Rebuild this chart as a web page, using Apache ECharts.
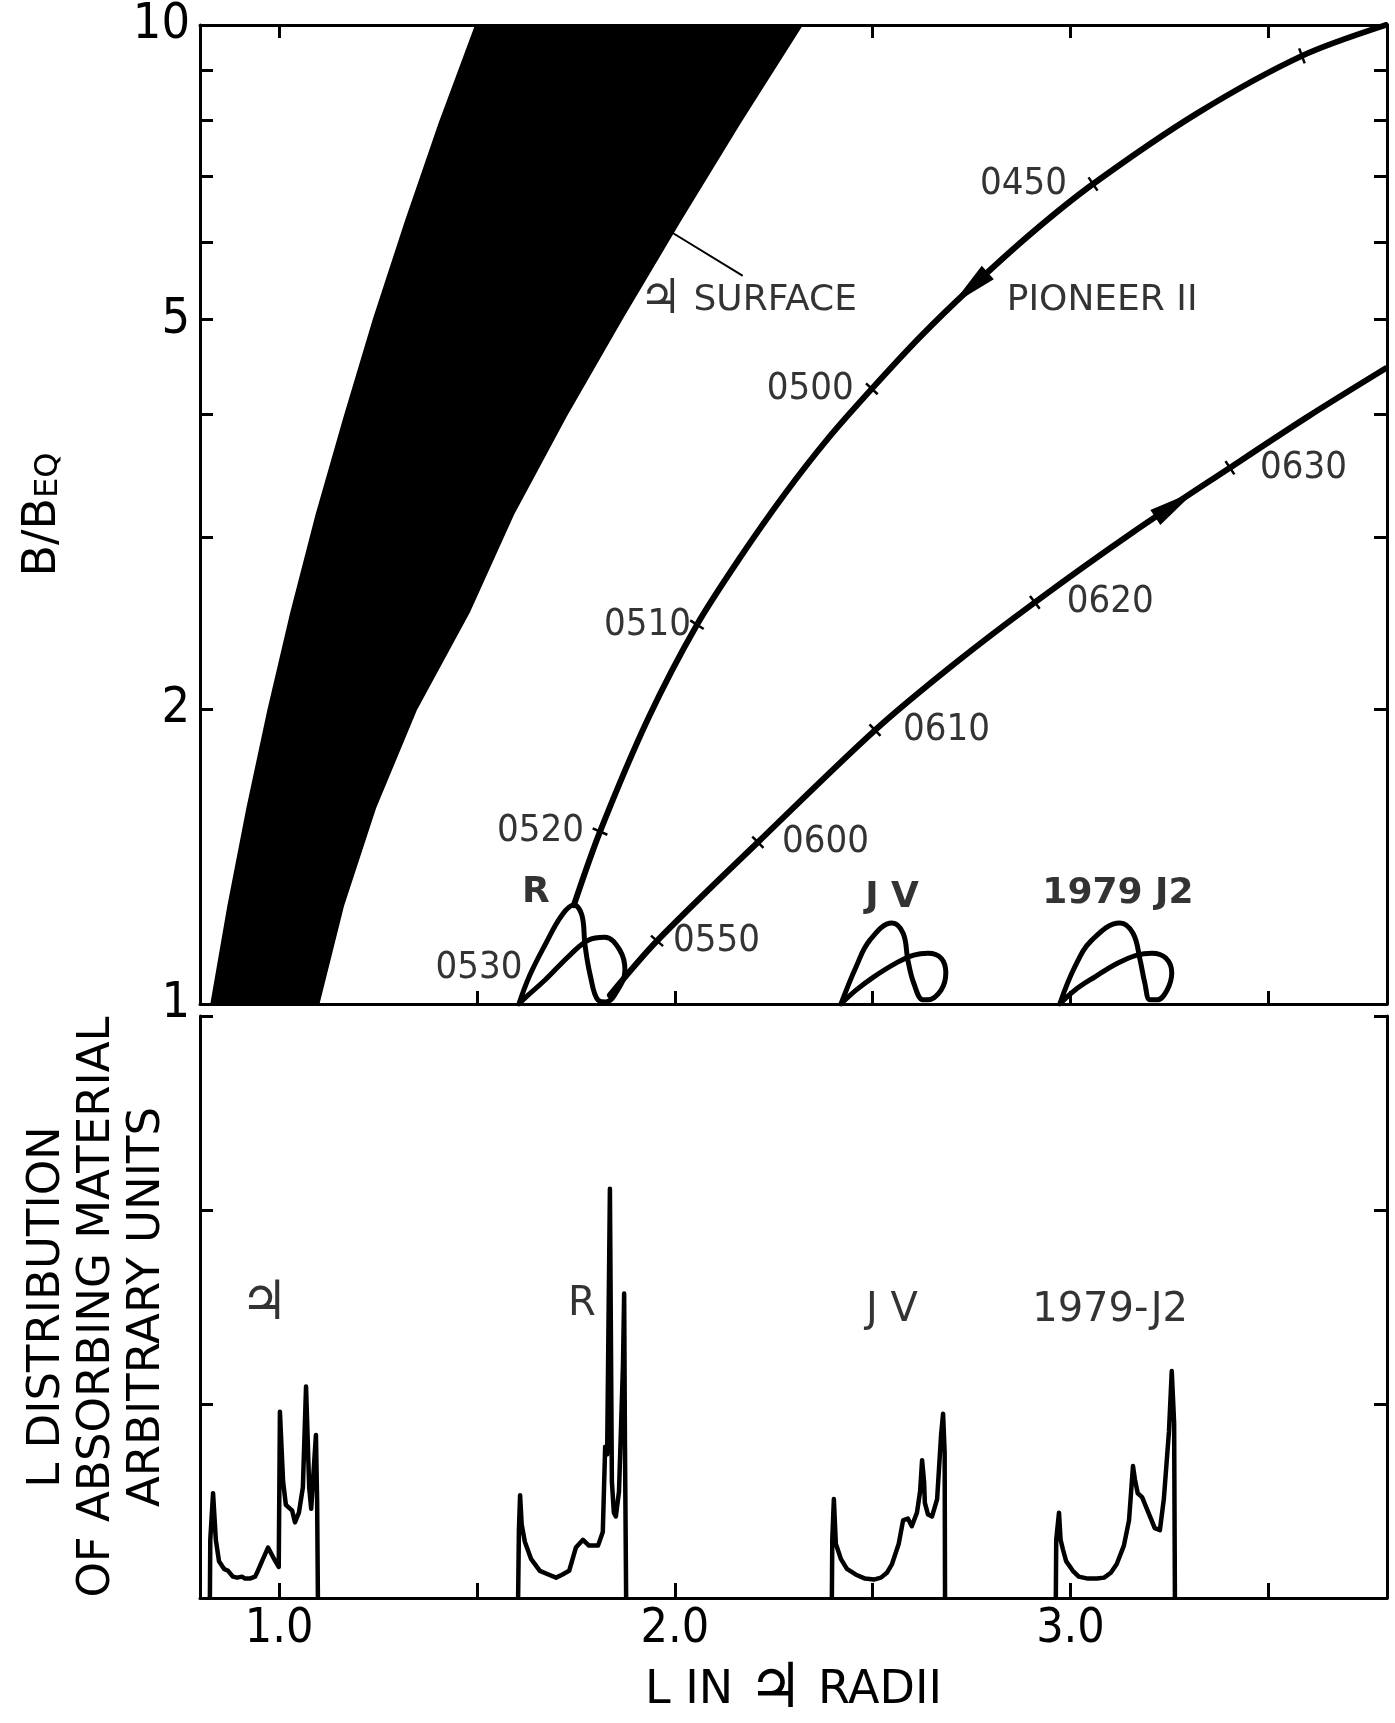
<!DOCTYPE html>
<html><head><meta charset="utf-8">
<script src="https://cdn.jsdelivr.net/npm/echarts@6/dist/echarts.min.js"></script>
<style>html,body{margin:0;padding:0;background:#fff}#c{width:1395px;height:1723px}</style>
</head><body><div id="c"></div>
<script>
// ---------- DATA (L in Jupiter radii, B/Beq) ----------
const xTicks = [1.0, 1.5, 2.0, 2.5, 3.0, 3.5];
const xLabels = [1.0, 2.0, 3.0];
const yTicksTop = [1, 2, 3, 4, 5, 6, 7, 8, 9, 10];
const yLabelsTop = [1, 2, 5, 10];
const yTicksBottom = [1, 2, 3];

// Jupiter surface band: left and right boundaries
const surfaceLeft = [[1.495,10],[1.403,7.943],[1.318,6.310],[1.237,5.012],[1.163,3.981],[1.092,3.162],[1.028,2.512],[0.970,1.995],[0.917,1.585],[0.869,1.259],[0.826,1.0]];
const surfaceRight = [[2.324,10],[2.167,7.943],[2.016,6.310],[1.869,5.012],[1.727,3.981],[1.594,3.162],[1.482,2.512],[1.348,1.995],[1.245,1.585],[1.164,1.259],[1.102,1.0]];

// Pioneer 11 trajectory
const inbound = [[3.797,10],[3.585,9.30],[3.320,8.124],[3.057,6.88],[2.901,6.126],[2.746,5.38],[2.622,4.810],[2.498,4.25],[2.387,3.780],[2.277,3.315],[2.165,2.858],[2.056,2.44],[1.933,1.958],[1.811,1.50],[1.745,1.262]];
const outbound = [[1.836,1.021],[1.955,1.160],[2.210,1.463],[2.506,1.904],[2.708,2.228],[2.910,2.572],[3.157,3.031],[3.403,3.53],[3.600,3.981],[3.797,4.46]];

// satellite loops
const rLoop = [[1.606,1.0],[1.634,1.071],[1.672,1.149],[1.715,1.233],[1.745,1.262],[1.765,1.233],[1.773,1.149],[1.786,1.071],[1.806,1.009],[1.826,1.005],[1.856,1.034],[1.874,1.083],[1.861,1.135],[1.823,1.170],[1.781,1.162],[1.735,1.122],[1.672,1.058],[1.621,1.014],[1.606,1.0]];
const jvLoop = [[2.420,1.0],[2.458,1.091],[2.493,1.162],[2.549,1.210],[2.577,1.181],[2.589,1.109],[2.604,1.05],[2.627,1.01],[2.640,1.01],[2.673,1.033],[2.685,1.076],[2.673,1.114],[2.640,1.127],[2.604,1.122],[2.559,1.101],[2.503,1.066],[2.458,1.033],[2.420,1.0]];
const j2Loop = [[2.973,1.0],[3.011,1.091],[3.054,1.162],[3.125,1.210],[3.158,1.181],[3.176,1.109],[3.188,1.05],[3.201,1.01],[3.219,1.01],[3.244,1.033],[3.256,1.076],[3.241,1.114],[3.206,1.127],[3.168,1.122],[3.120,1.101],[3.062,1.066],[3.011,1.033],[2.973,1.0]];

// time marks [label, L, B]
const inboundTimes = [['',3.585,9.30],['0450',3.057,6.88],['0500',2.498,4.25],['0510',2.056,2.44],['0520',1.811,1.50]];
const outboundTimes = [['0550',1.955,1.160],['0600',2.210,1.463],['0610',2.506,1.904],['0620',2.910,2.572],['0630',3.403,3.53]];
const loopTimes = [['0530',1.625,1.088]];
const inboundArrow = [[2.746,5.38]];
const outboundArrow = [[3.265,3.24]];

// annotations [text, L, value]
const surfaceLeader = [[1.998,6.12],[2.170,5.55]];
const topNotes = [['{j|♃} SURFACE',2.185,5.23],['PIONEER II',3.080,5.23]];
const topMoons = [['R',1.649,1.30],['J Ⅴ',2.549,1.283],['1979 J2',3.120,1.295]];
const bottomMoons = [['{j|♃}',0.962,1.51],['R',1.765,1.51],['J Ⅴ',2.549,1.48],['1979-J2',3.100,1.48]];

// L distribution of absorbing material (arbitrary units)
const specJupiter = [[0.825,0],[0.826,0.30],[0.833,0.54],[0.840,0.30],[0.848,0.19],[0.861,0.15],[0.871,0.14],[0.883,0.11],[0.894,0.105],[0.906,0.11],[0.914,0.10],[0.926,0.10],[0.939,0.11],[0.944,0.13],[0.959,0.20],[0.972,0.26],[0.985,0.21],[0.999,0.16],[1.002,0.96],[1.010,0.60],[1.017,0.48],[1.033,0.45],[1.040,0.39],[1.050,0.44],[1.060,0.57],[1.068,1.09],[1.076,0.57],[1.081,0.46],[1.086,0.46],[1.093,0.84],[1.096,0.50],[1.098,0]];
const specR = [[1.604,0],[1.606,0.35],[1.609,0.53],[1.613,0.38],[1.621,0.29],[1.637,0.20],[1.659,0.14],[1.682,0.12],[1.700,0.105],[1.715,0.12],[1.733,0.14],[1.750,0.26],[1.768,0.30],[1.783,0.27],[1.806,0.27],[1.818,0.34],[1.824,0.78],[1.829,0.74],[1.836,2.11],[1.841,0.60],[1.846,0.44],[1.851,0.42],[1.859,0.55],[1.869,1.20],[1.872,1.57],[1.874,0.80],[1.877,0]];
const specJV = [[2.397,0],[2.398,0.30],[2.402,0.51],[2.407,0.28],[2.420,0.20],[2.435,0.15],[2.458,0.12],[2.481,0.10],[2.503,0.095],[2.521,0.105],[2.536,0.13],[2.549,0.175],[2.566,0.28],[2.577,0.40],[2.589,0.41],[2.599,0.37],[2.612,0.44],[2.620,0.55],[2.625,0.71],[2.630,0.60],[2.632,0.49],[2.640,0.43],[2.650,0.42],[2.663,0.51],[2.673,0.84],[2.678,0.95],[2.682,0.75],[2.683,0]];
const specJ2 = [[2.963,0],[2.964,0.30],[2.971,0.44],[2.975,0.30],[2.981,0.25],[2.989,0.19],[3.006,0.14],[3.021,0.11],[3.044,0.10],[3.067,0.10],[3.085,0.105],[3.102,0.13],[3.117,0.175],[3.135,0.27],[3.148,0.40],[3.158,0.68],[3.163,0.61],[3.170,0.54],[3.181,0.52],[3.191,0.47],[3.203,0.41],[3.213,0.36],[3.226,0.35],[3.236,0.51],[3.249,0.86],[3.256,1.17],[3.262,0.90],[3.264,0]];

// ---------- STYLE ----------
const FN = "'Liberation Sans Narrow','DejaVu Sans Condensed','DejaVu Sans',sans-serif";
const FF = "'DejaVu Sans Condensed','DejaVu Sans',sans-serif";
const FS = "'DejaVu Sans',sans-serif";
const BLACK = '#000';
const labelGap = {'0450':26,'0500':18,'0510':6,'0520':16,'0530':4,'0550':16,'0600':24,'0610':28,'0620':32,'0630':30};
function jup(size){ return {j:{fontSize:size, fontFamily:FS, color:BLACK}}; }

function nearestDir(curve, p, api){
  const pix = curve.map(c => api.coord(c));
  let best = Infinity, dir = [1,0];
  for (let i = 0; i < pix.length - 1; i++) {
    const a = pix[i], b = pix[i+1];
    const dx = b[0]-a[0], dy = b[1]-a[1], l2 = dx*dx+dy*dy;
    if (!l2) continue;
    let t = ((p[0]-a[0])*dx + (p[1]-a[1])*dy)/l2; t = Math.max(0, Math.min(1, t));
    const qx = a[0]+t*dx-p[0], qy = a[1]+t*dy-p[1], d = qx*qx+qy*qy;
    if (d < best) { best = d; const l = Math.sqrt(l2); dir = [dx/l, dy/l]; }
  }
  return dir;
}
function tickRenderer(curve){
  return function(params, api){
    const p = api.coord([api.value(0), api.value(1)]);
    const d = nearestDir(curve, p, api), n = [-d[1], d[0]], h = 8;
    return {type:'line', shape:{x1:p[0]-n[0]*h, y1:p[1]-n[1]*h, x2:p[0]+n[0]*h, y2:p[1]+n[1]*h}, style:{stroke:BLACK, lineWidth:2.5}};
  };
}
function arrowRenderer(curve){
  return function(params, api){
    const p = api.coord([api.value(0), api.value(1)]);
    const d = nearestDir(curve, p, api), n = [-d[1], d[0]], L = 24, W = 9;
    const tip = [p[0]+d[0]*L, p[1]+d[1]*L];
    const b = [p[0]-d[0]*L, p[1]-d[1]*L];
    return {type:'polygon', shape:{points:[tip,[b[0]+n[0]*W,b[1]+n[1]*W],[b[0]-n[0]*W,b[1]-n[1]*W]]}, style:{fill:BLACK}};
  };
}
function lineSeries(data, xi, yi, w, smooth){
  return {type:'line', xAxisIndex:xi, yAxisIndex:yi, data:data, showSymbol:false, symbol:'none', smooth:smooth||false, silent:true,
    lineStyle:{color:BLACK, width:w, join:'round', cap:'round'}, animation:false};
}
function labelSeries(items, xi, yi, style, pos, dist){
  return {type:'scatter', xAxisIndex:xi, yAxisIndex:yi, symbolSize:0, silent:true, animation:false,
    data: items.map(t => {
      const o = {name:t[0], value:[t[1], t[2]]};
      if (labelGap[t[0]] !== undefined) o.label = {distance:labelGap[t[0]]};
      return o;
    }),
    label:Object.assign({show:true, formatter:'{b}', position:pos, distance:dist||0, color:BLACK}, style)};
}

const axisLineStyle = {color:BLACK, width:3};
function xAx(grid, position, tickLen, showLabel){
  return {gridIndex:grid, type:'value', min:0.8, max:3.8, position:position,
    axisLine:{show:true, onZero:false, lineStyle:axisLineStyle},
    axisTick:{show:true, inside:true, length:tickLen, customValues:xTicks, lineStyle:{color:BLACK, width:3}},
    axisLabel:showLabel ? {show:true, customValues:xLabels, formatter:v => v.toFixed(1), fontSize:48, fontFamily:FN, color:BLACK, margin:8} : {show:false},
    splitLine:{show:false}};
}

const option = {
  backgroundColor:'#fff',
  animation:false,
  grid:[
    {left:200, top:24, width:1187, height:980},
    {left:200, top:1016, width:1187, height:595}
  ],
  xAxis:[
    xAx(0,'bottom',13,false),
    xAx(0,'top',13,false),
    Object.assign(xAx(1,'bottom',15,true), {name:'L IN {j|♃} RADII', nameLocation:'middle', nameGap:62,
      nameTextStyle:{fontSize:46, fontFamily:FS, color:BLACK, rich:jup(62)}})
  ],
  yAxis:[
    {gridIndex:0, type:'log', logBase:10, min:1, max:10, position:'left',
      axisLine:{show:true, lineStyle:axisLineStyle},
      axisTick:{show:true, inside:true, length:13, customValues:yTicksTop, lineStyle:{color:BLACK, width:3}},
      axisLabel:{show:true, customValues:yLabelsTop, fontSize:50, fontFamily:FN, color:BLACK, margin:10},
      splitLine:{show:false},
      name:'{m|B/B}{s|EQ}', nameLocation:'middle', nameRotate:90, nameGap:122,
      nameTextStyle:{fontSize:46, fontFamily:FS, color:BLACK, rich:{
        m:{fontSize:46, fontFamily:FS, color:BLACK, padding:[0,0,12,0]},
        s:{fontSize:32, fontFamily:FS, color:BLACK}}}},
    {gridIndex:0, type:'log', logBase:10, min:1, max:10, position:'right',
      axisLine:{show:true, lineStyle:axisLineStyle},
      axisTick:{show:true, inside:true, length:13, customValues:yTicksTop, lineStyle:{color:BLACK, width:3}},
      axisLabel:{show:false}, splitLine:{show:false}},
    {gridIndex:1, type:'value', min:0, max:3, interval:1, position:'left',
      axisLine:{show:true, onZero:false, lineStyle:axisLineStyle},
      axisTick:{show:true, inside:true, length:13, customValues:yTicksBottom, lineStyle:{color:BLACK, width:3}},
      axisLabel:{show:false}, splitLine:{show:false},
      name:'L DISTRIBUTION\nOF ABSORBING MATERIAL\nARBITRARY UNITS', nameLocation:'middle', nameRotate:90, nameGap:28,
      nameTextStyle:{fontSize:45, lineHeight:50, fontFamily:FS, color:BLACK, align:'center'}},
    {gridIndex:1, type:'value', min:0, max:3, interval:1, position:'right',
      axisLine:{show:true, onZero:false, lineStyle:axisLineStyle},
      axisTick:{show:true, inside:true, length:13, customValues:yTicksBottom, lineStyle:{color:BLACK, width:3}},
      axisLabel:{show:false}, splitLine:{show:false}}
  ],
  series:[
    {type:'custom', xAxisIndex:0, yAxisIndex:0, data:[[1,1]], silent:true, z:1,
      renderItem:function(params, api){
        const pts = surfaceLeft.map(p => api.coord(p)).concat(surfaceRight.slice().reverse().map(p => api.coord(p)));
        return {type:'polygon', shape:{points:pts}, style:{fill:BLACK}};
      }},
    lineSeries(surfaceLeader, 0, 0, 2),
    lineSeries(inbound, 0, 0, 6, 0.3),
    lineSeries(outbound, 0, 0, 6, 0.3),
    lineSeries(rLoop, 0, 0, 5, 0.4),
    lineSeries(jvLoop, 0, 0, 5, 0.4),
    lineSeries(j2Loop, 0, 0, 5, 0.4),
    {type:'custom', xAxisIndex:0, yAxisIndex:0, silent:true, data:inboundTimes.map(t => [t[1], t[2]]), renderItem:tickRenderer(inbound)},
    {type:'custom', xAxisIndex:0, yAxisIndex:0, silent:true, data:outboundTimes.map(t => [t[1], t[2]]), renderItem:tickRenderer(outbound)},
    {type:'custom', xAxisIndex:0, yAxisIndex:0, silent:true, data:inboundArrow, renderItem:arrowRenderer(inbound)},
    {type:'custom', xAxisIndex:0, yAxisIndex:0, silent:true, data:outboundArrow, renderItem:arrowRenderer(outbound)},
    labelSeries(inboundTimes.filter(t => t[0]), 0, 0, {fontSize:38, fontFamily:FF}, 'left', 18),
    labelSeries(loopTimes, 0, 0, {fontSize:38, fontFamily:FF}, 'left', 4),
    labelSeries(outboundTimes, 0, 0, {fontSize:38, fontFamily:FF}, 'right', 20),
    labelSeries(topNotes, 0, 0, {fontSize:36, fontFamily:FS, rich:jup(48)}, 'inside', 0),
    labelSeries(topMoons, 0, 0, {fontSize:36, fontFamily:FS, fontWeight:'bold'}, 'inside', 0),
    lineSeries(specJupiter, 2, 2, 4.5),
    lineSeries(specR, 2, 2, 4.5),
    lineSeries(specJV, 2, 2, 4.5),
    lineSeries(specJ2, 2, 2, 4.5),
    labelSeries(bottomMoons, 2, 2, {fontSize:40, fontFamily:FS, rich:jup(54)}, 'inside', 0)
  ]
};
const chart = echarts.init(document.getElementById('c'), null, {renderer:'canvas', width:1395, height:1723});
chart.setOption(option);
</script></body></html>
